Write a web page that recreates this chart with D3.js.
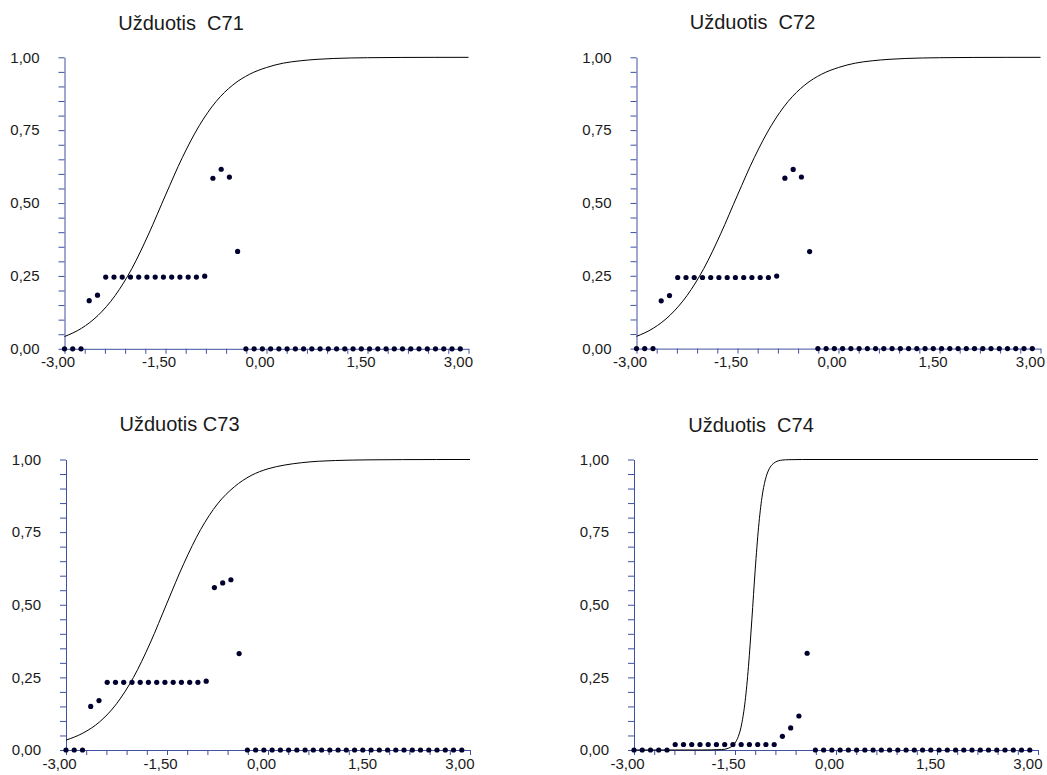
<!DOCTYPE html>
<html>
<head>
<meta charset="utf-8">
<script src="https://cdn.jsdelivr.net/npm/d3@7"></script>
<style>
  body { margin: 0; background: #fff; }
  svg { display: block; font-family: Arial, "Liberation Sans", sans-serif; }
</style>
</head>
<body>
<svg id="chart" width="1047" height="775"></svg>
<script>
// ability grid of the empirical points (theta)
const theta = [-3.000, -2.878, -2.755, -2.633, -2.510, -2.388, -2.265, -2.143, -2.020, -1.898,
  -1.776, -1.653, -1.531, -1.408, -1.286, -1.163, -1.041, -0.918, -0.796, -0.673,
  -0.551, -0.429, -0.306, -0.184, -0.061, 0.061, 0.184, 0.306, 0.429, 0.551,
  0.673, 0.796, 0.918, 1.041, 1.163, 1.286, 1.408, 1.531, 1.653, 1.776,
  1.898, 2.020, 2.143, 2.265, 2.388, 2.510, 2.633, 2.755, 2.878];

// empirical proportions (dots)
const obsC71 = [0, 0, 0, 0.165, 0.184, 0.246, 0.246, 0.246, 0.246, 0.246,
  0.246, 0.246, 0.246, 0.246, 0.246, 0.246, 0.246, 0.249, 0.585, 0.616,
  0.589, 0.334, 0, 0, 0, 0, 0, 0, 0, 0,
  0, 0, 0, 0, 0, 0, 0, 0, 0, 0,
  0, 0, 0, 0, 0, 0, 0, 0, 0];
const obsC72 = [0, 0, 0, 0.164, 0.182, 0.244, 0.244, 0.244, 0.244, 0.244,
  0.244, 0.244, 0.244, 0.244, 0.244, 0.244, 0.244, 0.249, 0.585, 0.615,
  0.589, 0.333, 0, 0, 0, 0, 0, 0, 0, 0,
  0, 0, 0, 0, 0, 0, 0, 0, 0, 0,
  0, 0, 0, 0, 0, 0, 0, 0, 0];
const obsC73 = [0, 0, 0, 0.150, 0.170, 0.233, 0.233, 0.233, 0.233, 0.233,
  0.233, 0.233, 0.233, 0.233, 0.233, 0.233, 0.233, 0.237, 0.559, 0.575,
  0.586, 0.332, 0, 0, 0, 0, 0, 0, 0, 0,
  0, 0, 0, 0, 0, 0, 0, 0, 0, 0,
  0, 0, 0, 0, 0, 0, 0, 0, 0];
const obsC74 = [0, 0, 0, 0, 0, 0.019, 0.019, 0.019, 0.019, 0.019,
  0.019, 0.019, 0.019, 0.019, 0.019, 0.019, 0.019, 0.019, 0.047, 0.076,
  0.117, 0.333, 0, 0, 0, 0, 0, 0, 0, 0,
  0, 0, 0, 0, 0, 0, 0, 0, 0, 0,
  0, 0, 0, 0, 0, 0, 0, 0, 0];

// model curves
const curveTheta = [-3, -2.75, -2.5, -2.25, -2, -1.75, -1.5, -1.25, -1, -0.75, -0.5,
  -0.25, 0, 0.25, 0.5, 0.75, 1, 1.5, 2, 2.5, 3];
const iccC71 = [0.042, 0.070, 0.115, 0.182, 0.275, 0.394, 0.527, 0.656, 0.765, 0.848, 0.905,
  0.942, 0.965, 0.980, 0.988, 0.993, 0.996, 0.9986, 0.9995, 0.9998, 0.9999];
const iccC72 = iccC71;
const iccC73 = [0.034, 0.058, 0.097, 0.159, 0.249, 0.368, 0.506, 0.642, 0.759, 0.847, 0.906,
  0.945, 0.968, 0.981, 0.989, 0.994, 0.9965, 0.9988, 0.9996, 0.9999, 1.0];
const curveThetaC74 = [-3, -2, -1.7, -1.6, -1.55, -1.5, -1.45, -1.4, -1.35, -1.3, -1.25, -1.2,
  -1.15, -1.1, -1.05, -1, -0.95, -0.9, -0.8, -0.7, -0.5, 0, 3];
const iccC74 = [0, 0.0001, 0.0015, 0.006, 0.012, 0.024, 0.047, 0.090, 0.167, 0.287, 0.448, 0.620,
  0.767, 0.869, 0.930, 0.964, 0.982, 0.991, 0.998, 0.9994, 1, 1, 1];

const titles = ['Užduotis  C71', 'Užduotis  C72', 'Užduotis C73', 'Užduotis  C74'];
const xLabelValues = [-3, -1.5, 0, 1.5, 3];
const yLabelValues = [0, 0.25, 0.5, 0.75, 1];

const svg = d3.select('#chart');
const axisColor = '#3f51a3';
const fmt = v => d3.format('.2f')(v).replace('.', ',').replace('−', '-');

// placement of each plot area
const boxes = [
  { x0: 64.5, x1: 468.5, top: 57.3, bottom: 348.8, tx: 181, ty: 29.5 },
  { x0: 636.5, x1: 1040.5, top: 57.3, bottom: 348.6, tx: 752.5, ty: 28.8 },
  { x0: 66, x1: 470, top: 459.5, bottom: 750, tx: 179.5, ty: 430.8 },
  { x0: 634, x1: 1038, top: 459.5, bottom: 750, tx: 751, ty: 431.5 }
];

const panels = [
  { title: titles[0], obs: obsC71, ct: curveTheta, icc: iccC71 },
  { title: titles[1], obs: obsC72, ct: curveTheta, icc: iccC72 },
  { title: titles[2], obs: obsC73, ct: curveTheta, icc: iccC73 },
  { title: titles[3], obs: obsC74, ct: curveThetaC74, icc: iccC74 }
];

panels.forEach((p, k) => {
  const b = boxes[k];
  const g = svg.append('g');

  const x = d3.scaleLinear().domain([-3, 3]).range([b.x0, b.x1]);
  const y = d3.scaleLinear().domain([0, 1]).range([b.bottom, b.top]);

  g.append('text')
    .attr('x', b.tx)
    .attr('y', b.ty)
    .attr('text-anchor', 'middle')
    .attr('font-size', 20)
    .attr('fill', '#1a1a1a')
    .style('white-space', 'pre')
    .text(p.title);

  // y axis: tick every 0.05, labels on quarters
  const yAxis = d3.axisLeft(y)
    .tickValues(d3.range(21).map(i => i * 0.05))
    .tickSize(6)
    .tickSizeOuter(0)
    .tickPadding(19)
    .tickFormat(d => yLabelValues.some(v => Math.abs(v - d) < 1e-6) ? fmt(d) : '');

  const yG = g.append('g')
    .attr('transform', `translate(${b.x0},0)`)
    .call(yAxis);

  // x axis: tick every 0.3, labels every 1.5
  const xAxis = d3.axisBottom(x)
    .tickValues(d3.range(21).map(i => -3 + i * 0.3))
    .tickSize(5)
    .tickSizeOuter(0)
    .tickPadding(3)
    .tickFormat(d => xLabelValues.some(v => Math.abs(v - d) < 1e-6) ? fmt(d) : '');

  const xG = g.append('g')
    .attr('transform', `translate(0,${b.bottom})`)
    .call(xAxis);
  xG.selectAll('.tick text').attr('dx', -7);
  // last label sits flush against its tick
  xG.selectAll('.tick text')
    .filter(d => Math.abs(d - 3) < 1e-6)
    .attr('text-anchor', 'end')
    .attr('dx', 4);

  [xG, yG].forEach(a => {
    a.select('.domain').attr('stroke', axisColor);
    a.selectAll('.tick line').attr('stroke', axisColor);
    a.selectAll('.tick text')
      .attr('fill', '#1a1a1a')
      .attr('font-size', 15)
      .attr('font-family', 'Arial, "Liberation Sans", sans-serif');
  });

  // model curve
  const line = d3.line()
    .x((d, i) => x(p.ct[i]))
    .y(d => y(d))
    .curve(d3.curveMonotoneX);

  g.append('path')
    .datum(p.icc)
    .attr('d', line)
    .attr('fill', 'none')
    .attr('stroke', '#000')
    .attr('stroke-width', 1);

  // empirical dots
  g.selectAll('circle')
    .data(p.obs)
    .enter()
    .append('circle')
      .attr('cx', (d, i) => x(theta[i]))
      .attr('cy', d => y(d))
      .attr('r', 2.6)
      .attr('fill', '#00002e');
});
</script>
</body>
</html>
